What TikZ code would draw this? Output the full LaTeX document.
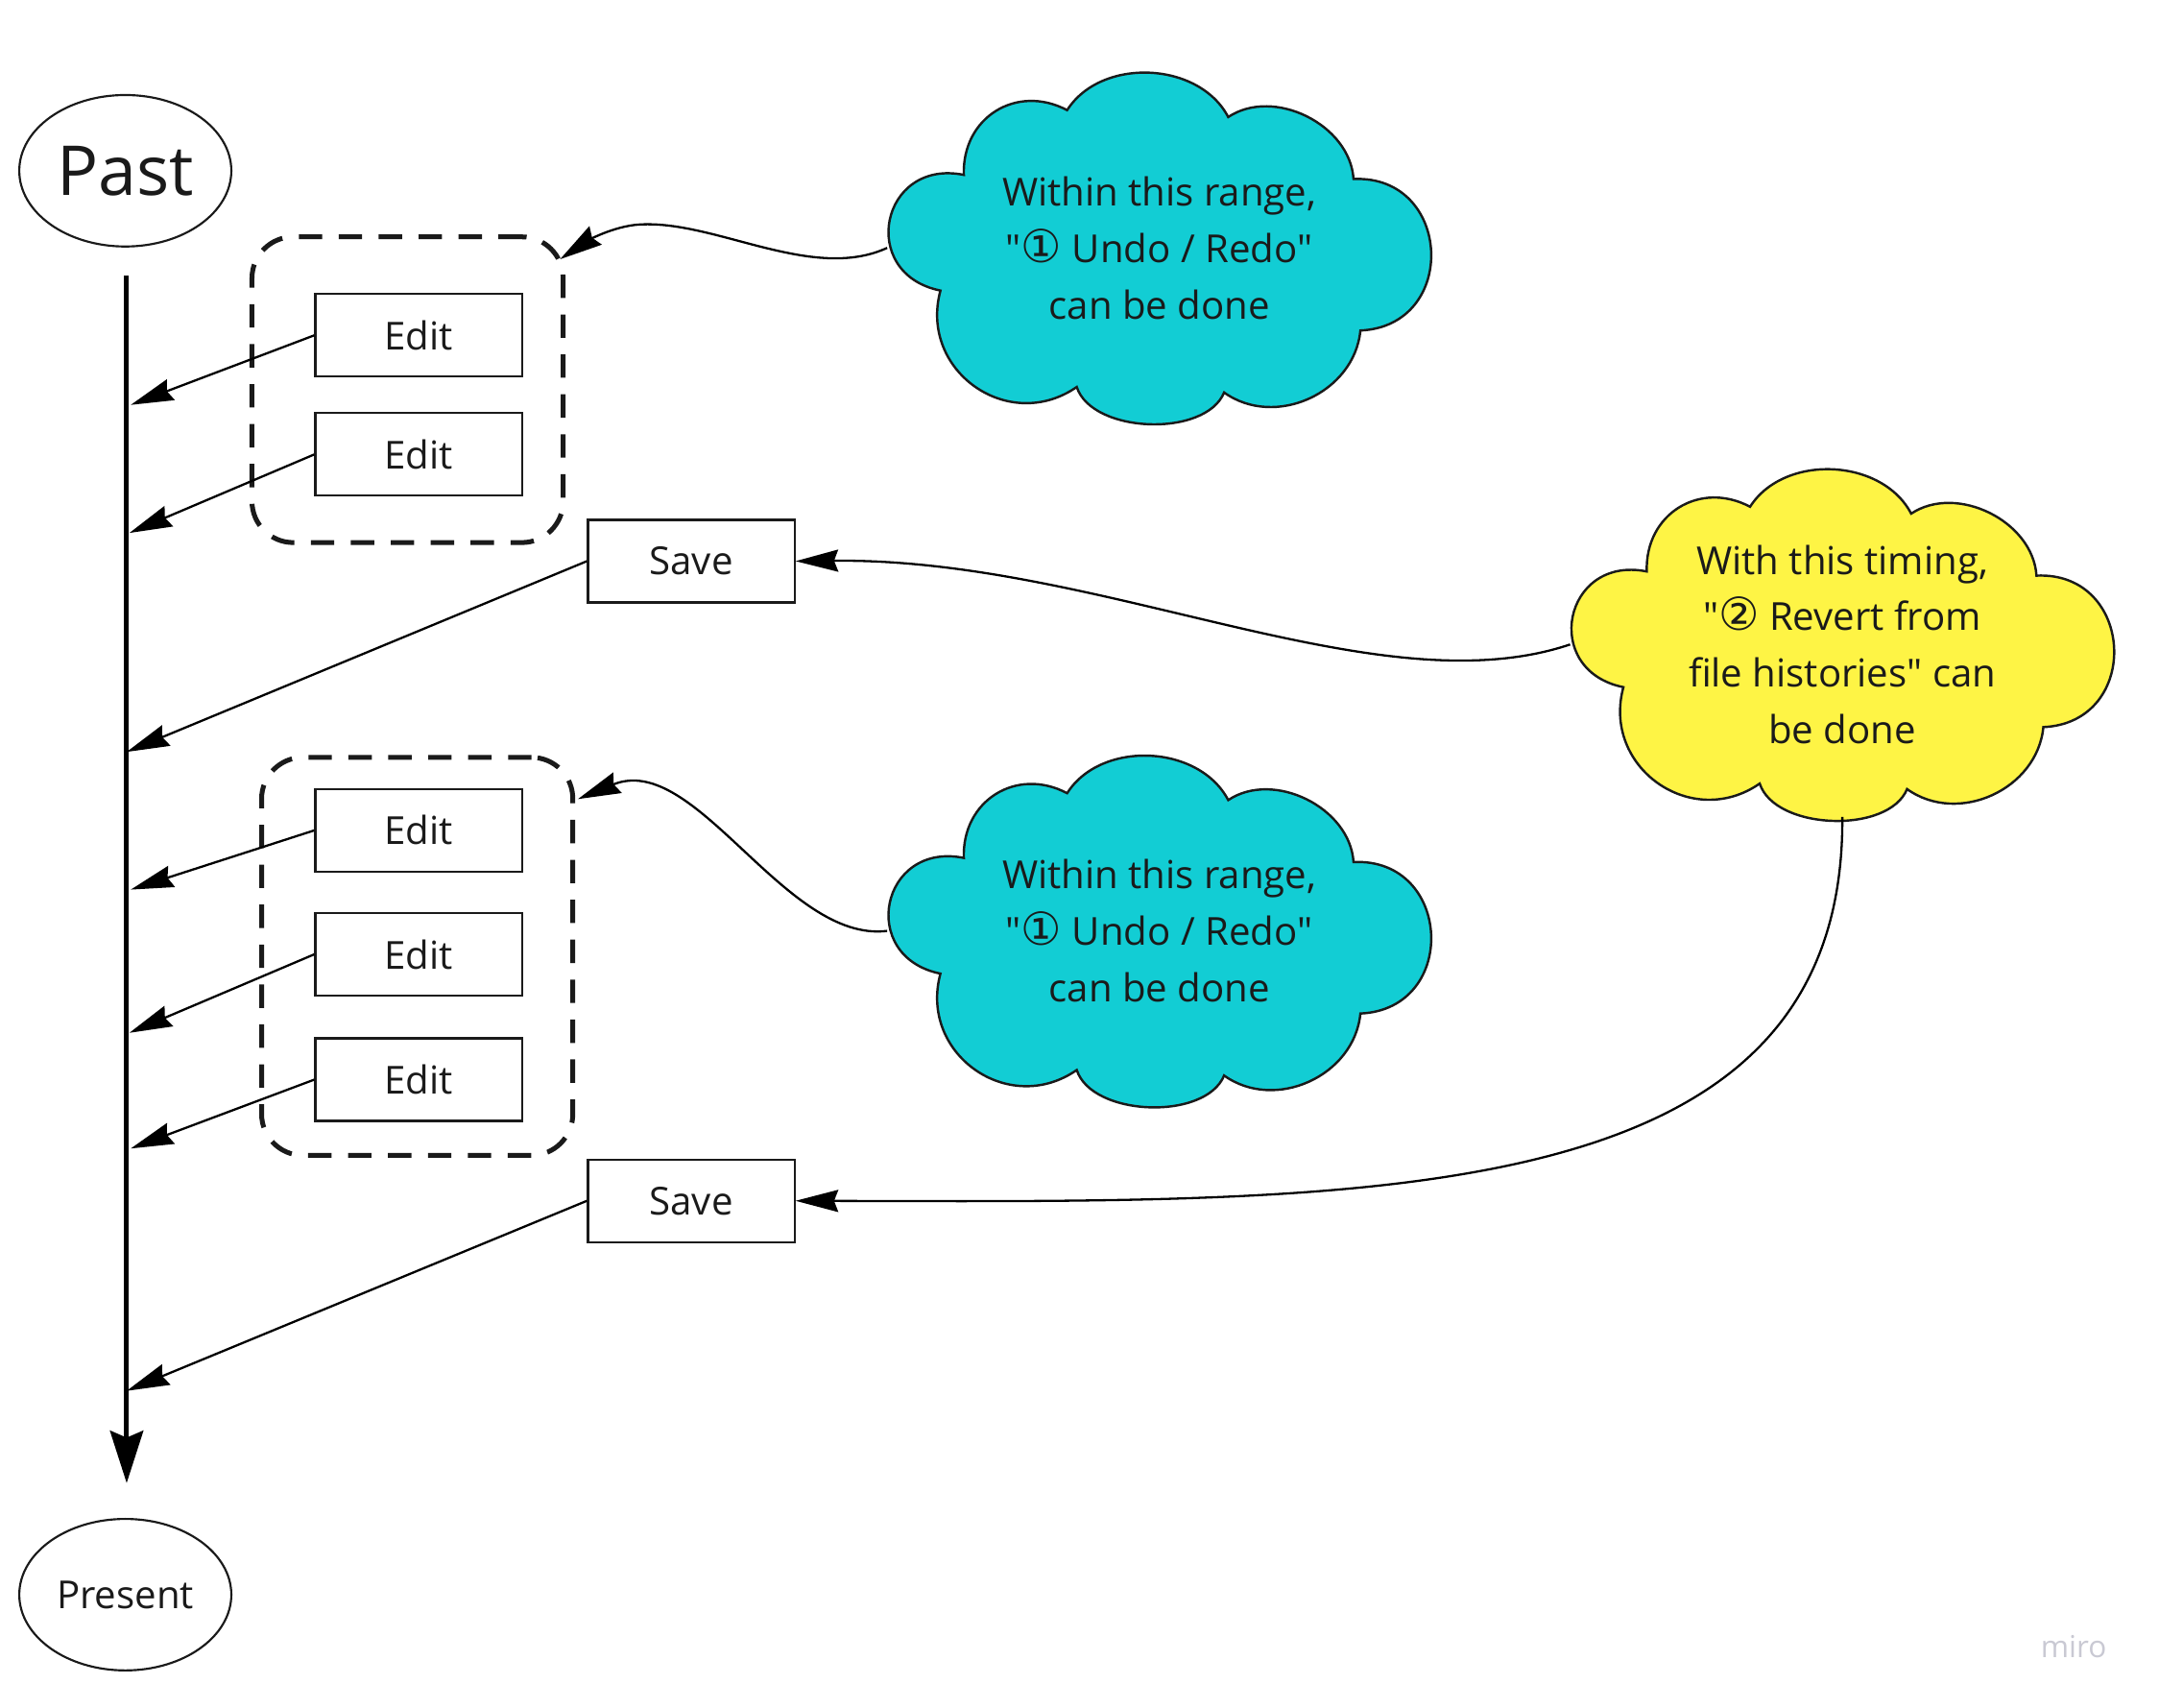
\documentclass[tikz,border=0pt]{standalone}
\usepackage{fontspec}
\setmainfont{Open Sans}
\newfontfamily\symbolfont{DejaVu Sans}
\usetikzlibrary{arrows.meta,shapes.geometric,calc}
\definecolor{inkdark}{HTML}{1A1A1A}
\definecolor{undocyan}{HTML}{12CDD4}
\definecolor{revertyellow}{HTML}{FEF445}
\definecolor{mirogray}{HTML}{C9C9D3}
\newcommand{\circnum}[1]{{\symbolfont\fontsize{33}{41}\selectfont #1}}
\newcommand{\qq}{\textquotedbl}
\begin{document}
\begin{tikzpicture}[x=1pt, y=-1pt,
  endpoint/.style={draw=inkdark, ellipse, line width=1.5pt, minimum width=154pt, minimum height=110pt, inner sep=0pt, text=inkdark},
  stepbox/.style={draw=inkdark, line width=1.5pt, minimum width=150pt, minimum height=60pt, inner sep=0pt, text=inkdark, font=\fontsize{28}{41}\selectfont},
  rangebox/.style={draw=inkdark, line width=3.5pt, dash pattern=on 17pt off 12pt, rounded corners=30pt, inner sep=0pt},
  bubbletext/.style={ellipse, minimum width=395pt, minimum height=250pt, inner sep=0pt, align=center, text=inkdark, font=\fontsize{28}{41}\selectfont},
  link/.style={-{Stealth[length=31pt,width=16pt,inset=3pt]}, line width=1.6pt, draw=black},
  pics/puffcloud/.style={code={
    \draw[line width=1.7pt, draw=inkdark, fill=#1] (-142,-53)
      to[bend left=60, looseness=1.2] (-67,-100)
      to[bend left=60] (50,-95)
      to[bend left=60] (141,-50)
      to[bend left=90, looseness=1.67] (146,60)
      to[bend left=60, looseness=1.07] (47,105)
      to[bend left=70, looseness=0.85] (-60,101)
      to[bend left=70, looseness=1.27] (-159,31)
      to[bend left=90, looseness=1.84] (-142,-53) -- cycle;
  }}]
\useasboundingbox (0,0) rectangle (1568,1240);
\node[endpoint, font=\fontsize{50}{60}\selectfont] (past) at (91,124) {Past};
\node[endpoint, font=\fontsize{28}{41}\selectfont] (present) at (91,1158) {Present};
\coordinate (tltop) at (92,200);
\coordinate (tlend) at (92,1077);
\draw[line width=3.5pt, -{Stealth[length=38pt,width=24pt,inset=5pt]}] (tltop) -- (tlend);
\node[rangebox, minimum width=226pt, minimum height=222pt] (rangeA) at (296,283) {};
\node[rangebox, minimum width=226pt, minimum height=289pt] (rangeB) at (303,694.5) {};
\node[stepbox] (edit1) at (304,243.5) {Edit};
\node[stepbox] (edit2) at (304,330) {Edit};
\node[stepbox] (save1) at (502,407.5) {Save};
\node[stepbox] (edit3) at (304,603) {Edit};
\node[stepbox] (edit4) at (304,693) {Edit};
\node[stepbox] (edit5) at (304,784) {Edit};
\node[stepbox] (save2) at (502,872) {Save};
\coordinate (t1) at (95,294);
\coordinate (t2) at (94,387);
\coordinate (t3) at (92,546);
\coordinate (t4) at (95,646);
\coordinate (t5) at (94,750);
\coordinate (t6) at (95,834);
\coordinate (t7) at (92,1010);
\draw[link] (edit1.west) -- (t1);
\draw[link] (edit2.west) -- (t2);
\draw[link] (save1.west) -- (t3);
\draw[link] (edit3.west) -- (t4);
\draw[link] (edit4.west) -- (t5);
\draw[link] (edit5.west) -- (t6);
\draw[link] (save2.west) -- (t7);
\pic at (842,180) {puffcloud=undocyan};
\node[bubbletext] (cloudA) at (842,180) {Within this range,\\\qq\circnum{①} Undo / Redo\qq\\can be done};
\pic at (842,676) {puffcloud=undocyan};
\node[bubbletext] (cloudB) at (842,676) {Within this range,\\\qq\circnum{①} Undo / Redo\qq\\can be done};
\pic at (1338,468) {puffcloud=revertyellow};
\node[bubbletext] (cloudC) at (1338,468) {With this timing,\\\qq\circnum{②} Revert from\\file histories\qq{} can\\be done};
\draw[link] (cloudA.west) .. controls (590,205) and (520,160) .. (465,163) .. controls (445,164) and (425,176) .. ($(rangeA.north east)+(-4,18)$);
\draw[link] (cloudB.west) .. controls (570,685) and (505,545) .. ($(rangeB.north east)+(2,32)$);
\draw[link] (cloudC.west) .. controls (1000,515) and (800,405) .. (save1.east);
\draw[link] (cloudC.south) .. controls (1340,880) and (1000,873) .. (save2.east);
\node[text=mirogray, font=\fontsize{22}{26}\selectfont] (watermark) at (1506,1196) {miro};
\end{tikzpicture}
\end{document}
